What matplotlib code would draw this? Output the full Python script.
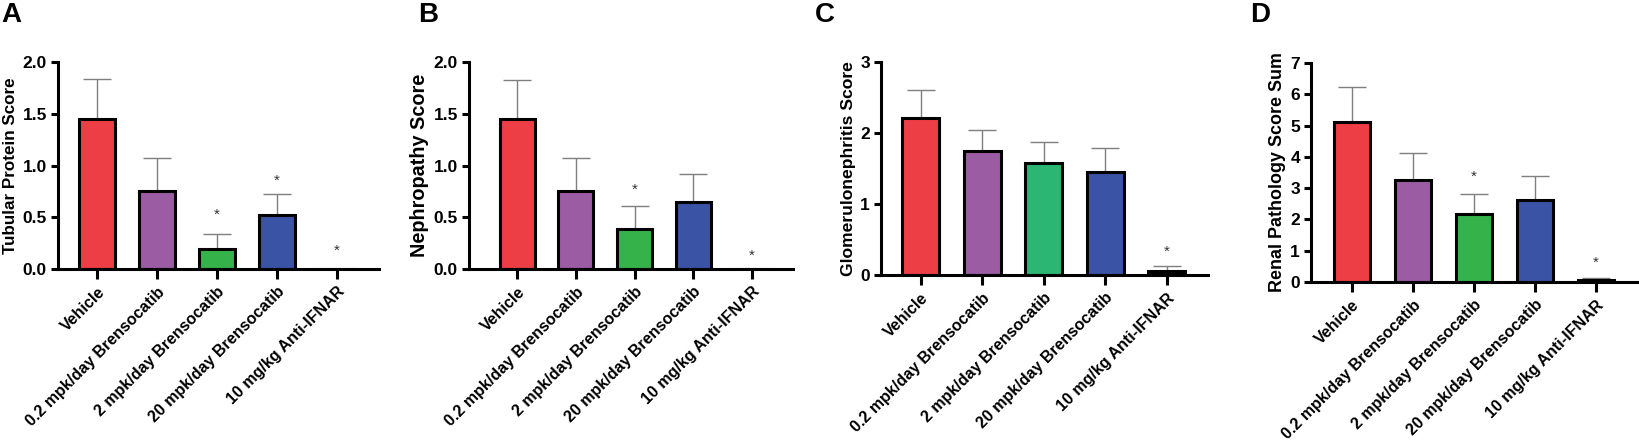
import numpy as np
import matplotlib
matplotlib.use("Agg")
import matplotlib.pyplot as plt

plt.rcParams["font.family"] = ["Liberation Sans", "DejaVu Sans"]
plt.rcParams["font.weight"] = "bold"

groups = ["Vehicle", "0.2 mpk/day Brensocatib", "2 mpk/day Brensocatib",
          "20 mpk/day Brensocatib", "10 mg/kg Anti-IFNAR"]

# means, upper error tops (mean + SEM), and star heights per panel
tubular_mean = [1.45, 0.75, 0.19, 0.52, 0.0]
tubular_top = [1.84, 1.07, 0.34, 0.72, 0.0]
tubular_star = [None, None, 0.52, 0.85, 0.18]

nephro_mean = [1.45, 0.75, 0.385, 0.65, 0.0]
nephro_top = [1.83, 1.07, 0.61, 0.915, 0.0]
nephro_star = [None, None, 0.77, None, 0.13]

glom_mean = [2.21, 1.75, 1.58, 1.45, 0.056]
glom_top = [2.60, 2.045, 1.88, 1.79, 0.12]
glom_star = [None, None, None, None, 0.33]

renal_mean = [5.11, 3.25, 2.17, 2.62, 0.05]
renal_top = [6.23, 4.11, 2.80, 3.39, 0.14]
renal_star = [None, None, 3.35, None, 0.6]

colors_main = ["#ee3e45", "#9b5ca3", "#35b34a", "#3a53a4", "#000000"]
colors_c = ["#ee3e45", "#9b5ca3", "#2bb673", "#3a53a4", "#000000"]

# ylabel lengths in the source figure (pixels), used to size the labels
panels = [
    dict(letter="A", ylabel="Tubular Protein Score", mean=tubular_mean, top=tubular_top,
         star=tubular_star, ylim=2.0, yticks=[0, 0.5, 1.0, 1.5, 2.0], fmt="{:.1f}",
         pos=[0.0354, 0.3928, 0.1958, 0.4672], xlim=(-0.65, 4.7), colors=colors_main,
         lx=0.001, ylen=177),
    dict(letter="B", ylabel="Nephropathy Score", mean=nephro_mean, top=nephro_top,
         star=nephro_star, ylim=2.0, yticks=[0, 0.5, 1.0, 1.5, 2.0], fmt="{:.1f}",
         pos=[0.2862, 0.3928, 0.1976, 0.4672], xlim=(-0.82, 4.7), colors=colors_main,
         lx=0.255, ylen=184),
    dict(letter="C", ylabel="Glomerulonephritis Score", mean=glom_mean, top=glom_top,
         star=glom_star, ylim=3, yticks=[0, 1, 2, 3], fmt="{:.0f}",
         pos=[0.5375, 0.3792, 0.1995, 0.4808], xlim=(-0.65, 4.67), colors=colors_c,
         lx=0.497, ylen=215),
    dict(letter="D", ylabel="Renal Pathology Score Sum", mean=renal_mean, top=renal_top,
         star=renal_star, ylim=7, yticks=list(range(8)), fmt="{:.0f}",
         pos=[0.7999, 0.3634, 0.1995, 0.4944], xlim=(-0.67, 4.69), colors=colors_main,
         lx=0.763, ylen=238),
]

fig = plt.figure(figsize=(16.39, 4.43), dpi=100)
renderer = fig.canvas.get_renderer()
x = np.arange(len(groups))

for p in panels:
    ax = fig.add_axes(p["pos"])
    mean = np.array(p["mean"])
    err_up = np.array(p["top"]) - mean
    ax.errorbar(x, mean, yerr=[np.zeros_like(mean), err_up], fmt="none",
                ecolor="#7f7f7f", elinewidth=1.0, capsize=10, capthick=1.0, zorder=1)
    ax.bar(x, mean, width=0.6, color=p["colors"], edgecolor="black",
           linewidth=2.2, zorder=2)
    for i, s in enumerate(p["star"]):
        if s is not None:
            ax.text(i, s, "*", ha="center", va="center", fontsize=11,
                    color="#333333", fontweight="normal")
    ax.set_xlim(*p["xlim"])
    ax.set_ylim(0, p["ylim"])
    ax.set_yticks(p["yticks"])
    ax.set_yticklabels([p["fmt"].format(t) for t in p["yticks"]], fontsize=12.5,
                       fontweight="bold")
    ax.set_xticks(x)
    ax.set_xticklabels(groups, rotation=45, ha="right", rotation_mode="anchor",
                       fontsize=11.5, fontweight="bold")
    lab = ax.set_ylabel(p["ylabel"], fontsize=12.5, fontweight="bold", labelpad=3)
    h = lab.get_window_extent(renderer).height
    lab.set_fontsize(12.5 * p["ylen"] / h)
    for side in ["top", "right"]:
        ax.spines[side].set_visible(False)
    for side in ["left", "bottom"]:
        ax.spines[side].set_linewidth(2.2)
    ax.tick_params(axis="y", width=2.2, length=5, pad=3)
    ax.tick_params(axis="x", width=2.2, length=7, pad=4)
    fig.text(p["lx"], 0.995, p["letter"], fontsize=20, fontweight="bold",
             ha="left", va="top")

fig.savefig("out.png", dpi=100)
